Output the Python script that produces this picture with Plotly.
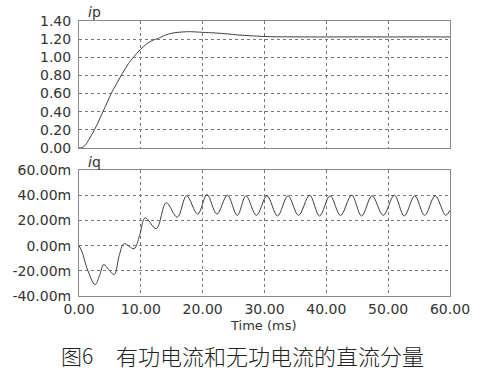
import plotly.graph_objects as go

# ---- data ----
ip_t = [0, 0.5, 1, 1.5, 2, 2.5, 3, 3.5, 4, 5, 5.2, 6, 7, 8, 8.8, 10, 11, 12, 12.5, 13, 14, 15, 16, 17, 17.5,
        18, 19, 20, 22, 24, 25.7, 28, 31, 35, 40, 45, 50, 55, 60]
ip_v = [0.0, 0.005, 0.03, 0.08, 0.14, 0.2, 0.27, 0.345, 0.42, 0.57, 0.6, 0.7, 0.82, 0.93, 1.0, 1.09, 1.15, 1.19,
        1.2, 1.215, 1.245, 1.265, 1.275, 1.28, 1.282, 1.282, 1.279, 1.275, 1.268, 1.258, 1.246, 1.236, 1.227,
        1.225, 1.224, 1.225, 1.224, 1.225, 1.224]

iq_t = [0, 0.5, 1.3, 2.6, 3.3, 4.0, 4.8, 5.7, 6.5, 7.3, 8.9, 9.8, 10.7, 12.5, 14.1, 15.9, 17.4, 19.2, 20.7,
        22.3, 24.0, 25.6, 27.0, 28.7, 30.4, 32.1, 33.8, 35.5, 37.3, 38.9, 40.6, 42.3, 44.1, 45.7, 47.4,
        49.2, 51.0, 52.6, 54.3, 55.9, 57.6, 59.3, 60.0]
iq_v = [0, -5, -18, -31, -24, -15, -19, -23, -8, 1.5, -2.5, 8, 22, 13.5, 34, 22.5, 39.5, 25, 40.5,
        25, 40, 24, 39.5, 24, 39.5, 23.5, 39.5, 24, 40, 23.5, 39.5, 24, 40, 23.5, 39.5,
        24, 40, 23.5, 39.5, 24, 39.5, 24, 28]

x_ticks = [0, 10, 20, 30, 40, 50, 60]
x_ticktext = ["0.00", "10.00", "20.00", "30.00", "40.00", "50.00", "60.00"]
ip_ticks = [0, 0.2, 0.4, 0.6, 0.8, 1.0, 1.2, 1.4]
iq_ticks = [-40, -20, 0, 20, 40, 60]
iq_ticktext = ["-40.00m", "-20.00m", "0.00m", "20.00m", "40.00m", "60.00m"]

line_col = "#404040"
grid_col = "#777777"
frame_col = "#8a8a8a"
text_col = "#333333"
tick_font = dict(family="DejaVu Sans", size=14, color=text_col)

fig = go.Figure()
fig.add_trace(go.Scatter(x=ip_t, y=ip_v, mode="lines", line=dict(color=line_col, width=1, shape="spline"),
                         xaxis="x", yaxis="y", showlegend=False, hoverinfo="skip"))
fig.add_trace(go.Scatter(x=iq_t, y=iq_v, mode="lines", line=dict(color=line_col, width=1, shape="spline", smoothing=1.0),
                         xaxis="x2", yaxis="y2", showlegend=False, hoverinfo="skip"))

common_x = dict(range=[0, 60], tickvals=x_ticks, showgrid=True, gridcolor=grid_col, griddash="dot", gridwidth=1,
                showline=True, mirror=True, linecolor=frame_col, linewidth=1, zeroline=False, ticks="")
common_y = dict(showgrid=True, gridcolor=grid_col, griddash="dot", gridwidth=1, showline=True, mirror=True,
                linecolor=frame_col, linewidth=1, zeroline=False, ticks="", tickfont=tick_font,
                ticklabelstandoff=4)

fig.update_layout(
    width=482, height=379,
    margin=dict(l=78, r=26, t=21, b=83),
    paper_bgcolor="white", plot_bgcolor="white",
    xaxis=dict(common_x, anchor="y", showticklabels=False),
    yaxis=dict(common_y, domain=[0.5382, 1], range=[0, 1.4], tickvals=ip_ticks, tickformat=".2f"),
    xaxis2=dict(common_x, anchor="y2", ticktext=x_ticktext, tickfont=dict(family="DejaVu Sans", size=14, color=text_col),
                ticklabelstandoff=0),
    yaxis2=dict(common_y, domain=[0, 0.4582], range=[-40, 60], tickvals=iq_ticks, ticktext=iq_ticktext),
    annotations=[
        dict(text="<i>i</i>p", x=0.02, y=1.0, xref="paper", yref="paper", xanchor="left", yanchor="bottom",
             showarrow=False, font=dict(family="DejaVu Sans", size=14, color=text_col), yshift=-1),
        dict(text="<i>i</i>q", x=0.02, y=0.4582, xref="paper", yref="paper", xanchor="left", yanchor="bottom",
             showarrow=False, font=dict(family="DejaVu Sans", size=14, color=text_col), yshift=-2),
        dict(text="Time (ms)", x=0.497, y=-0.1055, xref="paper", yref="paper", xanchor="center", yanchor="middle",
             showarrow=False, font=dict(family="DejaVu Sans", size=13, color=text_col)),
        dict(text="图6", x=-0.0529, y=-0.2145, xref="paper", yref="paper",
             xanchor="left", yanchor="middle", showarrow=False,
             font=dict(family="Noto Sans CJK SC", size=21, color="#222222", weight=300)),
        dict(text="有功电流和无功电流的直流分量", x=0.0952, y=-0.2145, xref="paper", yref="paper",
             xanchor="left", yanchor="middle", showarrow=False,
             font=dict(family="Noto Sans CJK SC", size=22, color="#222222", weight=300)),
    ],
)

fig.write_html("out.html", config={"displayModeBar": False},
               post_script="document.body.style.margin='0';document.body.style.padding='0';")
